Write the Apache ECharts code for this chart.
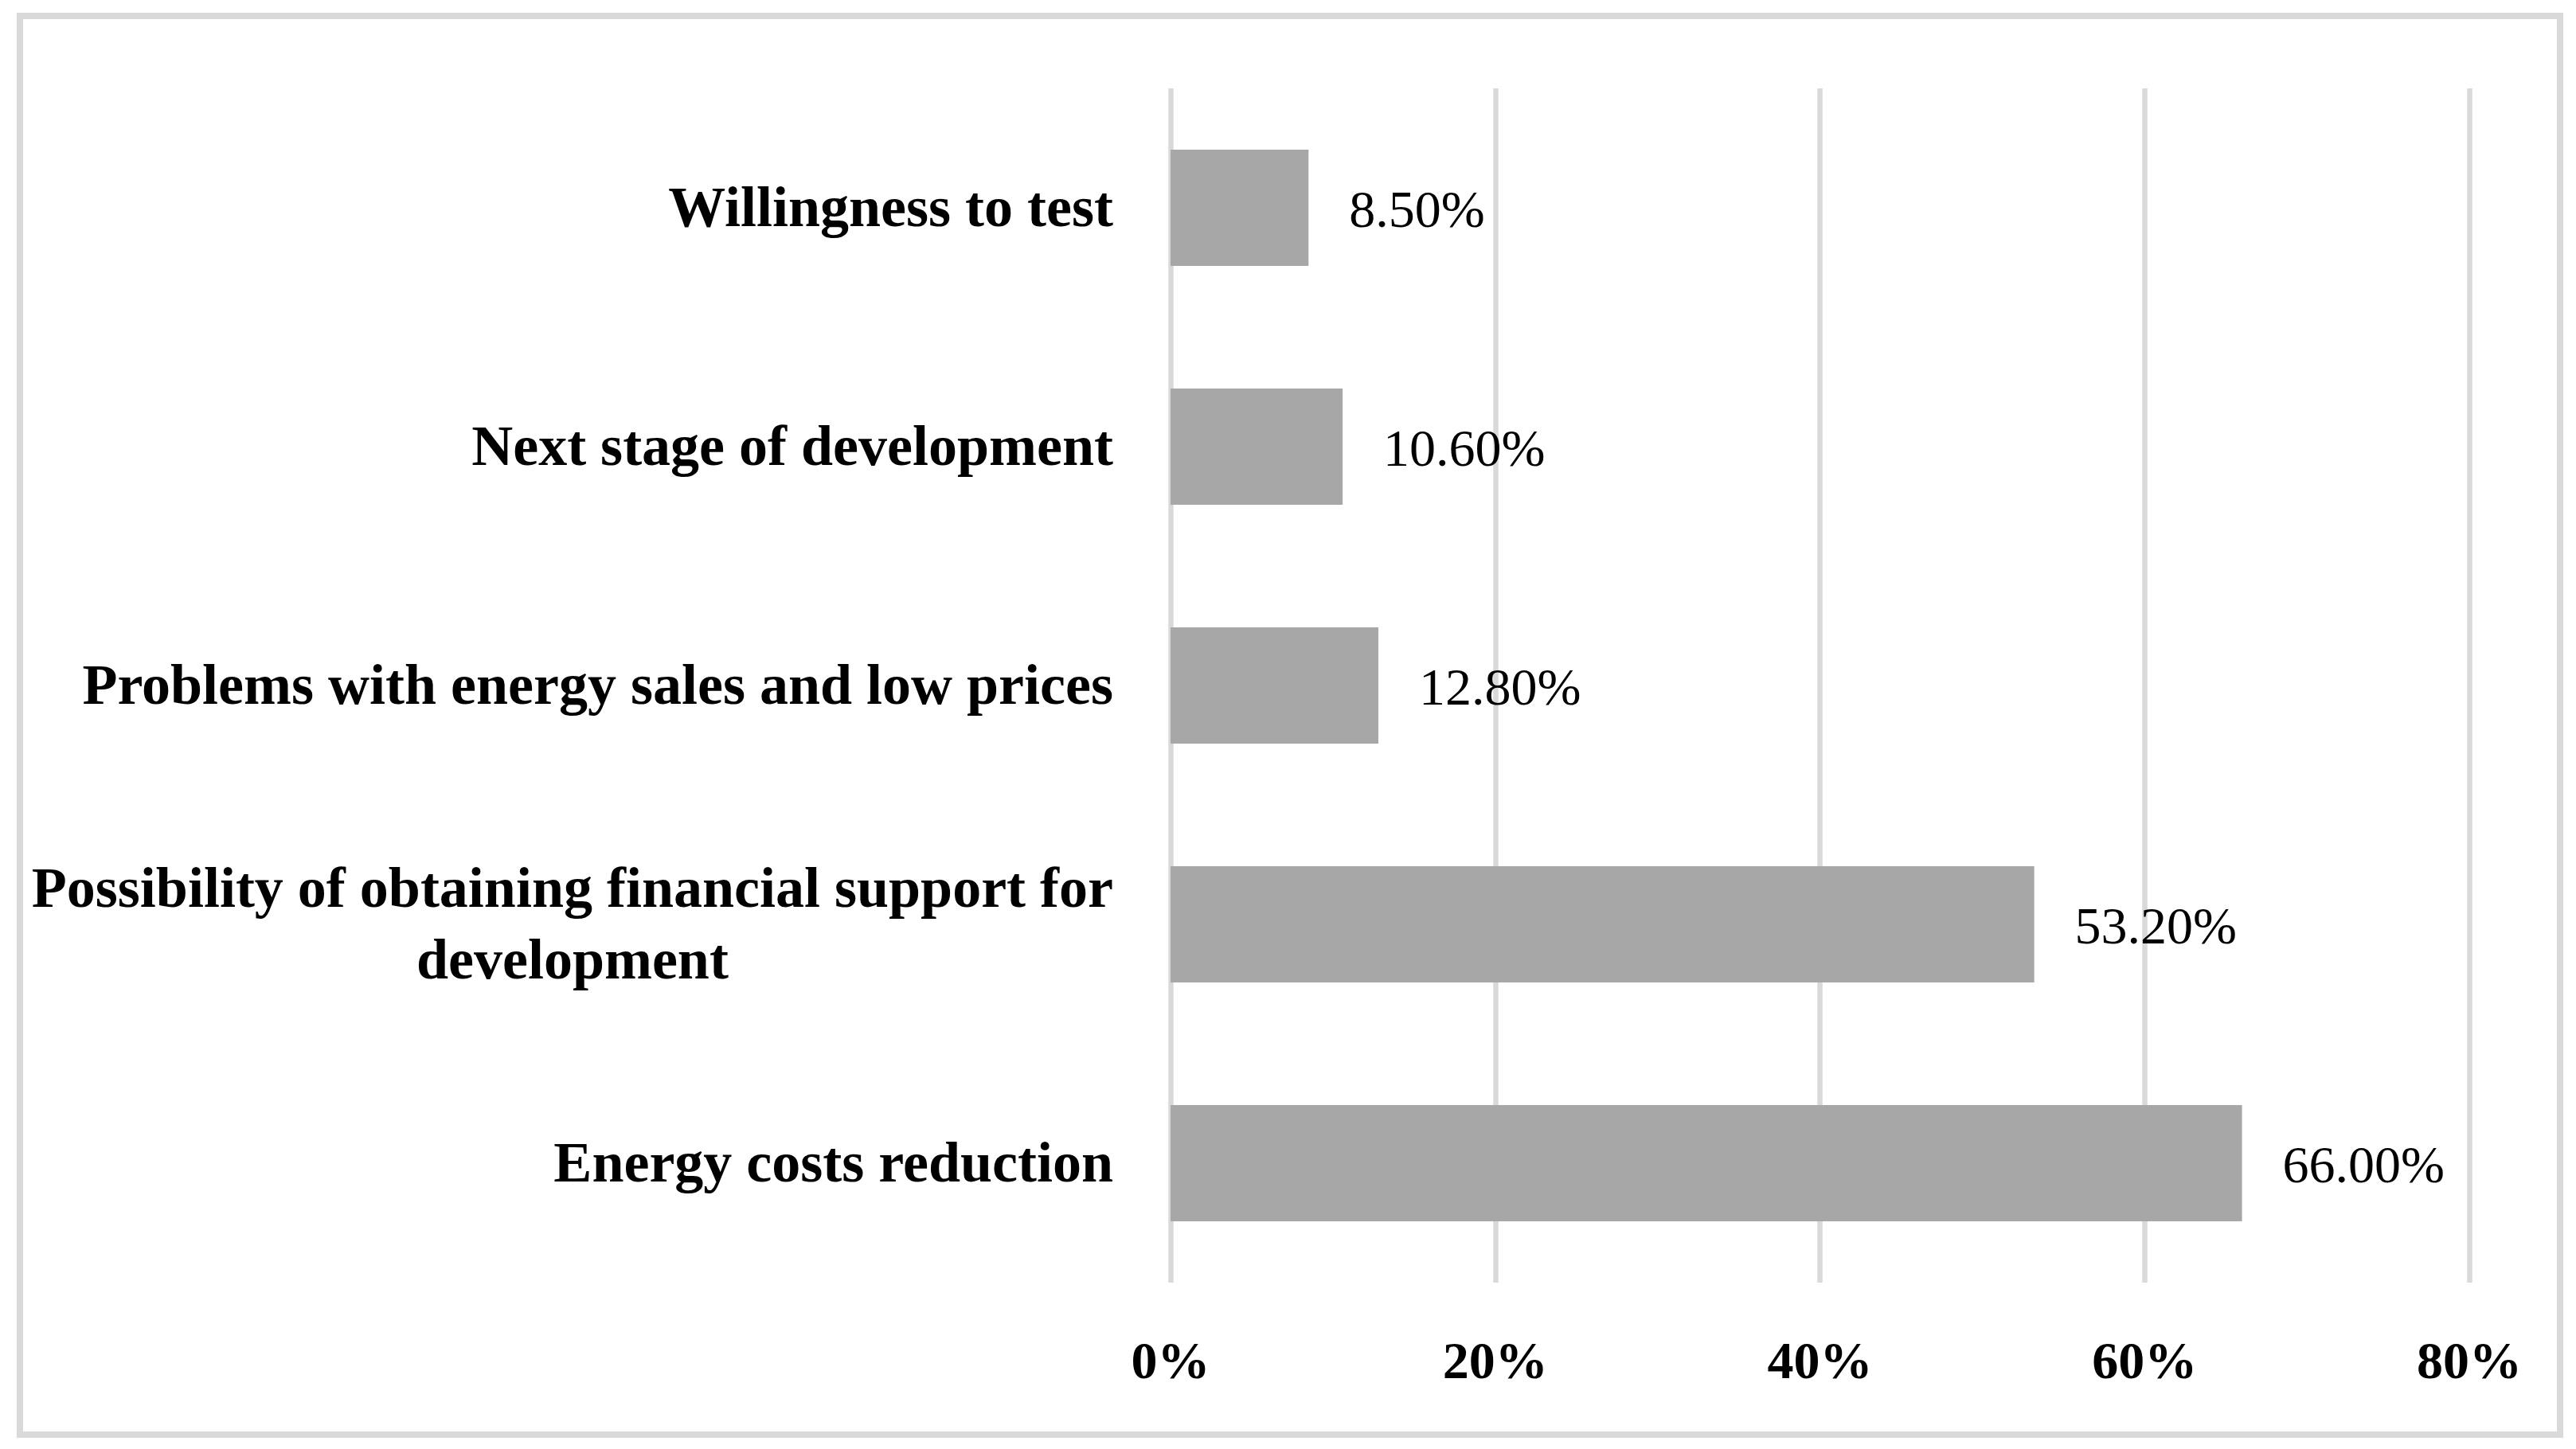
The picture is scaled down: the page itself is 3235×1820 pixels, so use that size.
<!DOCTYPE html>
<html>
<head>
<meta charset="utf-8">
<script src="https://cdn.jsdelivr.net/npm/echarts@6/dist/echarts.min.js"></script>
<style>
  html, body { margin: 0; padding: 0; background: #ffffff; }
  #chart { width: 3235px; height: 1820px; }
</style>
</head>
<body>
<div id="chart"></div>
<script>
// Categories listed bottom-to-top (ECharts category y axis starts at the bottom)
const categories = [
  'Energy costs reduction',
  'Possibility of obtaining financial support for\ndevelopment',
  'Problems with energy sales and low prices',
  'Next stage of development',
  'Willingness to test'
];
const values = [66.0, 53.2, 12.8, 10.6, 8.5];
const xTicks = [0, 20, 40, 60, 80];

const FONT = '"Liberation Serif", "Times New Roman", serif';

const chart = echarts.init(document.getElementById('chart'), null, { renderer: 'canvas' });

chart.setOption({
  backgroundColor: '#ffffff',
  animation: false,
  graphic: [{
    type: 'rect',
    shape: { x: 25, y: 20, width: 3190, height: 1782 },
    style: { fill: 'none', stroke: '#d9d9d9', lineWidth: 8 },
    silent: true,
    z: -1
  }],
  grid: {
    left: 1470,
    right: 134,
    top: 111,
    bottom: 209,
    containLabel: false
  },
  xAxis: {
    type: 'value',
    min: xTicks[0],
    max: xTicks[xTicks.length - 1],
    interval: 20,
    axisLine: { show: false },
    axisTick: { show: false },
    splitLine: { show: true, lineStyle: { color: '#d9d9d9', width: 6.5 } },
    axisLabel: {
      margin: 70,
      fontFamily: FONT,
      fontWeight: 'bold',
      fontSize: 66,
      color: '#000000',
      formatter: v => v + '%'
    }
  },
  yAxis: {
    type: 'category',
    data: categories,
    axisLine: { show: false },
    axisTick: { show: false },
    splitLine: { show: false },
    axisLabel: {
      margin: 72,
      align: 'right',
      padding: [8, 0, 0, 0],
      formatter: v => v.split('\n').map(s => '{b|' + s + '}').join('\n'),
      rich: {
        b: {
          fontFamily: FONT,
          fontWeight: 'bold',
          fontSize: 72,
          lineHeight: 90,
          color: '#000000',
          align: 'center'
        }
      }
    }
  },
  series: [{
    type: 'bar',
    data: values,
    barWidth: 146,
    itemStyle: { color: '#a7a7a7' },
    label: {
      show: true,
      position: 'right',
      distance: 51,
      offset: [0, 7],
      fontFamily: FONT,
      fontSize: 66,
      color: '#000000',
      formatter: p => p.value.toFixed(2) + '%'
    }
  }]
});
</script>
</body>
</html>
